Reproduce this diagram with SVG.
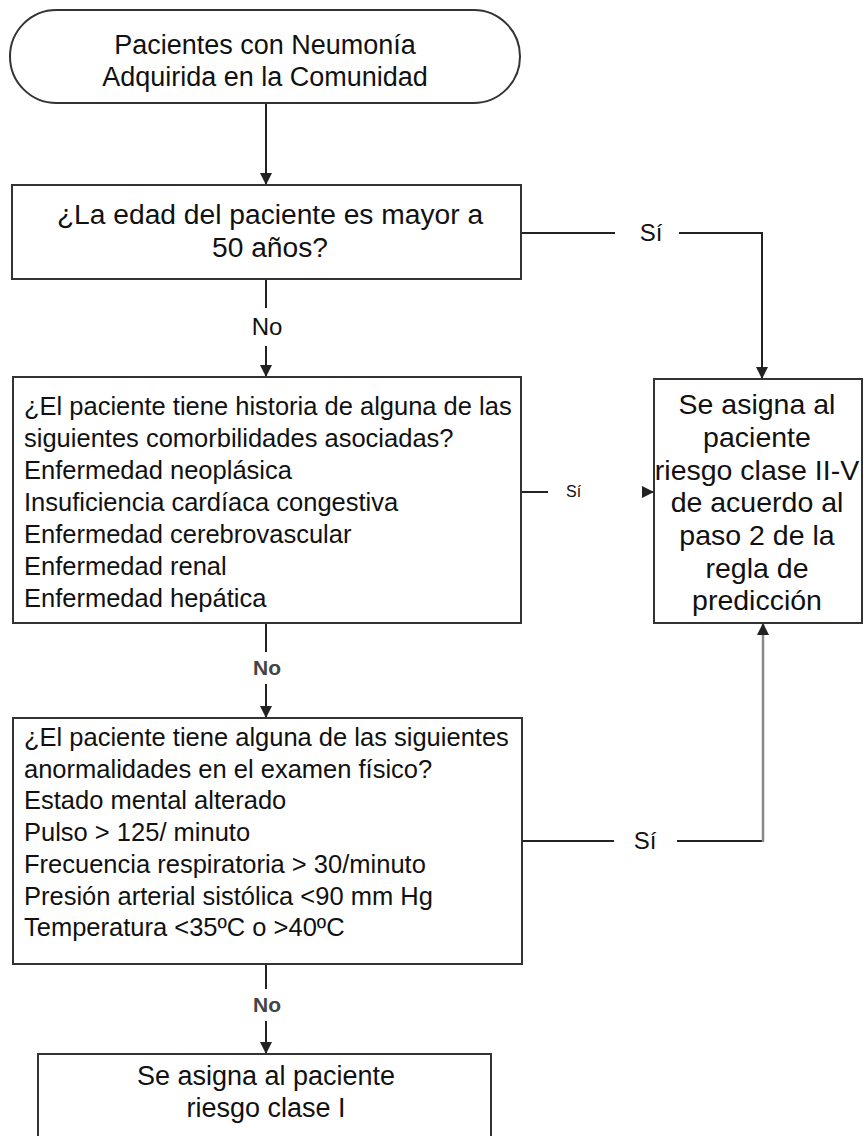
<svg xmlns="http://www.w3.org/2000/svg" width="864" height="1136" viewBox="0 0 864 1136">
<style>
.box{fill:#fff;stroke:#333;stroke-width:2}
.ln{fill:none;stroke:#222;stroke-width:2}
.t{font-family:"Liberation Sans",Arial,sans-serif;fill:#111}
.big{font-size:27px;text-anchor:middle}
.q{font-size:28.2px;text-anchor:middle}
.side{font-size:28.5px;text-anchor:middle}
.list{font-size:25.5px}
.lbl{font-size:24px;text-anchor:middle}
.sm{font-size:16px}
.no{font-family:"Liberation Sans",Arial,sans-serif;font-size:21px;font-weight:bold;fill:#444;text-anchor:middle}
</style>
<defs>
<marker id="ah" viewBox="0 0 12 12" refX="12" refY="6" markerWidth="12" markerHeight="12" markerUnits="userSpaceOnUse" orient="auto">
<path d="M0,0 L12,6 L0,12 z" fill="#222"/>
</marker>
</defs>
<rect width="864" height="1136" fill="#fff"/>
<g id="connectors">
<line class="ln" x1="266" y1="103" x2="266" y2="185" marker-end="url(#ah)"/>
<polyline class="ln" points="521,233 615,233"/>
<polyline class="ln" points="679,233 762,233 762,379" marker-end="url(#ah)"/>
<line class="ln" x1="266" y1="279" x2="266" y2="308"/>
<line class="ln" x1="266" y1="346" x2="266" y2="377" marker-end="url(#ah)"/>
<line class="ln" x1="521" y1="492" x2="548" y2="492"/>
<line class="ln" x1="646" y1="492" x2="654" y2="492" marker-end="url(#ah)"/>
<line class="ln" x1="266" y1="623" x2="266" y2="652"/>
<line class="ln" x1="266" y1="684" x2="266" y2="718" marker-end="url(#ah)"/>
<line class="ln" x1="522" y1="841" x2="614" y2="841"/>
<polyline class="ln" points="677,841 763,841"/>
<line x1="763" y1="842" x2="763" y2="623" stroke="#888" stroke-width="2.5" marker-end="url(#ah)"/>
<line class="ln" x1="266" y1="964" x2="266" y2="989"/>
<line class="ln" x1="266" y1="1021" x2="266" y2="1054" marker-end="url(#ah)"/>
<text class="t lbl" x="651" y="241">Sí</text>
<text class="t lbl" x="267" y="335">No</text>
<text class="t sm" x="566" y="497">Sí</text>
<text class="no" x="267" y="675">No</text>
<text class="t lbl" x="645" y="849">Sí</text>
<text class="no" x="267" y="1012">No</text>
</g>
<g id="start">
<rect class="box" x="10" y="10" width="510" height="93" rx="46.5" ry="46.5"/>
<text class="t big" x="265" y="54">Pacientes con Neumonía</text>
<text class="t big" x="265" y="86">Adquirida en la Comunidad</text>
</g>
<g id="age">
<rect class="box" x="12" y="185" width="509" height="94"/>
<text class="t q" x="270" y="224">¿La edad del paciente es mayor a</text>
<text class="t q" x="270" y="257">50 años?</text>
</g>
<g id="comorb">
<rect class="box" x="13" y="377" width="508" height="246"/>
<text class="t list" x="24" y="415">¿El paciente tiene historia de alguna de las</text>
<text class="t list" x="24" y="447">siguientes comorbilidades asociadas?</text>
<text class="t list" x="24" y="479">Enfermedad neoplásica</text>
<text class="t list" x="24" y="511">Insuficiencia cardíaca congestiva</text>
<text class="t list" x="24" y="543">Enfermedad cerebrovascular</text>
<text class="t list" x="24" y="575">Enfermedad renal</text>
<text class="t list" x="24" y="607">Enfermedad hepática</text>
</g>
<g id="risk2">
<rect class="box" x="654" y="379" width="208" height="244"/>
<text class="t side" x="757" y="414">Se asigna al</text>
<text class="t side" x="757" y="447">paciente</text>
<text class="t side" x="757" y="480">riesgo clase II-V</text>
<text class="t side" x="757" y="512">de acuerdo al</text>
<text class="t side" x="757" y="545">paso 2 de la</text>
<text class="t side" x="757" y="578">regla de</text>
<text class="t side" x="757" y="610">predicción</text>
</g>
<g id="exam">
<rect class="box" x="13" y="718" width="509" height="246"/>
<text class="t list" x="24" y="746">¿El paciente tiene alguna de las siguientes</text>
<text class="t list" x="24" y="778">anormalidades en el examen físico?</text>
<text class="t list" x="24" y="809">Estado mental alterado</text>
<text class="t list" x="24" y="841">Pulso &gt; 125/ minuto</text>
<text class="t list" x="24" y="873">Frecuencia respiratoria &gt; 30/minuto</text>
<text class="t list" x="24" y="905">Presión arterial sistólica &lt;90 mm Hg</text>
<text class="t list" x="24" y="936">Temperatura &lt;35ºC o &gt;40ºC</text>
</g>
<g id="risk1">
<rect class="box" x="38" y="1054" width="453" height="84"/>
<text class="t big" x="266" y="1085">Se asigna al paciente</text>
<text class="t big" x="266" y="1117">riesgo clase I</text>
</g>
</svg>
